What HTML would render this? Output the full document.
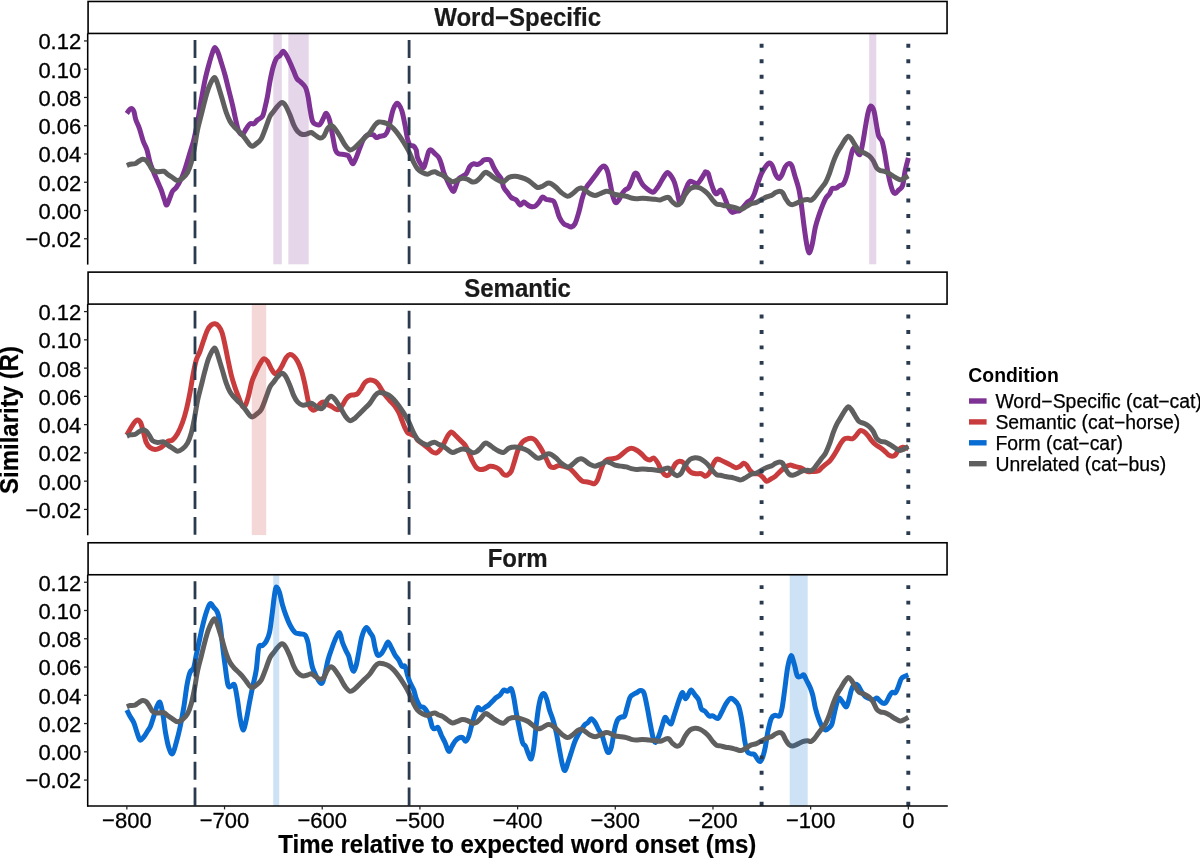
<!DOCTYPE html><html><head><meta charset="utf-8"><style>html,body{margin:0;padding:0;background:#fff;}svg{display:block;will-change:transform;}text{font-family:"Liberation Sans",sans-serif;} .t{will-change:transform;}</style></head><body>
<svg width="1200" height="858" viewBox="0 0 1200 858">
<rect width="1200" height="858" fill="#fff"/>
<clipPath id="c0"><rect x="87.70" y="33.45" width="859.30" height="231.15"/></clipPath>
<g clip-path="url(#c0)">
<path d="M126.85,113.50C127.46,112.71 129.35,109.17 130.50,108.75C131.65,108.33 132.88,109.21 133.75,111.00C134.62,112.79 134.79,116.54 135.75,119.50C136.71,122.46 138.25,125.12 139.50,128.75C140.75,132.38 142.00,137.71 143.25,141.25C144.50,144.79 145.88,146.46 147.00,150.00C148.12,153.54 148.88,158.75 150.00,162.50C151.12,166.25 152.50,169.38 153.75,172.50C155.00,175.62 156.25,178.33 157.50,181.25C158.75,184.17 160.08,186.88 161.25,190.00C162.42,193.12 163.58,197.50 164.50,200.00C165.42,202.50 165.83,205.42 166.75,205.00C167.67,204.58 169.04,199.79 170.00,197.50C170.96,195.21 171.46,192.92 172.50,191.25C173.54,189.58 174.79,189.58 176.25,187.50C177.71,185.42 179.71,182.08 181.25,178.75C182.79,175.42 184.04,171.88 185.50,167.50C186.96,163.12 188.62,157.08 190.00,152.50C191.38,147.92 192.50,145.00 193.75,140.00C195.00,135.00 196.25,129.17 197.50,122.50C198.75,115.83 200.00,107.08 201.25,100.00C202.50,92.92 203.75,85.83 205.00,80.00C206.25,74.17 207.50,69.58 208.75,65.00C210.00,60.42 211.46,55.42 212.50,52.50C213.54,49.58 214.08,47.50 215.00,47.50C215.92,47.50 216.96,50.00 218.00,52.50C219.04,55.00 220.08,58.75 221.25,62.50C222.42,66.25 223.75,70.42 225.00,75.00C226.25,79.58 227.50,85.00 228.75,90.00C230.00,95.00 231.33,100.00 232.50,105.00C233.67,110.00 234.71,115.62 235.75,120.00C236.79,124.38 237.62,128.83 238.75,131.25C239.88,133.67 241.25,134.92 242.50,134.50C243.75,134.08 245.00,130.54 246.25,128.75C247.50,126.96 248.75,124.58 250.00,123.75C251.25,122.92 252.50,124.38 253.75,123.75C255.00,123.12 256.04,121.25 257.50,120.00C258.96,118.75 261.25,118.33 262.50,116.25C263.75,114.17 264.17,110.83 265.00,107.50C265.83,104.17 266.67,100.62 267.50,96.25C268.33,91.88 269.08,86.04 270.00,81.25C270.92,76.46 271.96,71.25 273.00,67.50C274.04,63.75 275.08,60.75 276.25,58.75C277.42,56.75 278.88,56.75 280.00,55.50C281.12,54.25 281.96,51.33 283.00,51.25C284.04,51.17 285.08,53.12 286.25,55.00C287.42,56.88 288.75,59.79 290.00,62.50C291.25,65.21 292.58,68.54 293.75,71.25C294.92,73.96 295.75,76.88 297.00,78.75C298.25,80.62 299.83,81.04 301.25,82.50C302.67,83.96 304.38,85.21 305.50,87.50C306.62,89.79 307.25,92.71 308.00,96.25C308.75,99.79 309.25,104.58 310.00,108.75C310.75,112.92 311.46,118.62 312.50,121.25C313.54,123.88 315.00,123.96 316.25,124.50C317.50,125.04 318.75,125.67 320.00,124.50C321.25,123.33 322.71,119.38 323.75,117.50C324.79,115.62 325.29,112.83 326.25,113.25C327.21,113.67 328.46,116.38 329.50,120.00C330.54,123.62 331.50,130.00 332.50,135.00C333.50,140.00 334.46,146.88 335.50,150.00C336.54,153.12 337.38,153.00 338.75,153.75C340.12,154.50 342.21,154.21 343.75,154.50C345.29,154.79 346.88,154.58 348.00,155.50C349.12,156.42 349.67,158.62 350.50,160.00C351.33,161.38 352.04,164.17 353.00,163.75C353.96,163.33 355.08,160.21 356.25,157.50C357.42,154.79 358.75,150.62 360.00,147.50C361.25,144.38 362.50,140.83 363.75,138.75C365.00,136.67 366.25,135.71 367.50,135.00C368.75,134.29 370.21,134.50 371.25,134.50C372.29,134.50 372.92,134.50 373.75,135.00C374.58,135.50 375.21,137.29 376.25,137.50C377.29,137.71 378.54,136.67 380.00,136.25C381.46,135.83 383.67,136.04 385.00,135.00C386.33,133.96 387.08,132.50 388.00,130.00C388.92,127.50 389.67,123.33 390.50,120.00C391.33,116.67 392.04,112.71 393.00,110.00C393.96,107.29 395.29,104.67 396.25,103.75C397.21,102.83 397.79,103.25 398.75,104.50C399.71,105.75 400.96,107.83 402.00,111.25C403.04,114.67 404.08,120.42 405.00,125.00C405.92,129.58 406.67,135.42 407.50,138.75C408.33,142.08 408.96,143.75 410.00,145.00C411.04,146.25 412.71,145.42 413.75,146.25C414.79,147.08 415.62,148.12 416.25,150.00C416.88,151.88 416.67,155.00 417.50,157.50C418.33,160.00 420.21,163.33 421.25,165.00C422.29,166.67 422.92,168.33 423.75,167.50C424.58,166.67 425.42,162.71 426.25,160.00C427.08,157.29 427.92,152.92 428.75,151.25C429.58,149.58 430.21,149.58 431.25,150.00C432.29,150.42 433.75,152.50 435.00,153.75C436.25,155.00 437.71,155.83 438.75,157.50C439.79,159.17 440.42,161.25 441.25,163.75C442.08,166.25 442.71,169.58 443.75,172.50C444.79,175.42 446.25,178.54 447.50,181.25C448.75,183.96 450.21,187.08 451.25,188.75C452.29,190.42 452.92,191.88 453.75,191.25C454.58,190.62 455.42,187.08 456.25,185.00C457.08,182.92 457.71,180.21 458.75,178.75C459.79,177.29 461.25,177.08 462.50,176.25C463.75,175.42 465.00,175.42 466.25,173.75C467.50,172.08 468.75,167.92 470.00,166.25C471.25,164.58 472.50,164.04 473.75,163.75C475.00,163.46 476.25,164.71 477.50,164.50C478.75,164.29 480.21,163.25 481.25,162.50C482.29,161.75 482.71,160.50 483.75,160.00C484.79,159.50 486.38,159.42 487.50,159.50C488.62,159.58 489.46,159.17 490.50,160.50C491.54,161.83 492.58,165.29 493.75,167.50C494.92,169.71 496.25,171.88 497.50,173.75C498.75,175.62 500.21,176.46 501.25,178.75C502.29,181.04 502.71,185.21 503.75,187.50C504.79,189.79 506.25,190.83 507.50,192.50C508.75,194.17 509.79,196.25 511.25,197.50C512.71,198.75 514.79,198.75 516.25,200.00C517.71,201.25 518.75,204.67 520.00,205.00C521.25,205.33 522.71,202.21 523.75,202.00C524.79,201.79 525.21,203.04 526.25,203.75C527.29,204.46 528.54,205.83 530.00,206.25C531.46,206.67 533.54,206.88 535.00,206.25C536.46,205.62 537.50,204.04 538.75,202.50C540.00,200.96 541.25,197.50 542.50,197.00C543.75,196.50 545.00,199.00 546.25,199.50C547.50,200.00 548.75,199.71 550.00,200.00C551.25,200.29 552.71,200.00 553.75,201.25C554.79,202.50 555.29,204.79 556.25,207.50C557.21,210.21 558.25,214.79 559.50,217.50C560.75,220.21 562.42,222.42 563.75,223.75C565.08,225.08 566.25,224.96 567.50,225.50C568.75,226.04 570.00,227.29 571.25,227.00C572.50,226.71 573.75,226.17 575.00,223.75C576.25,221.33 577.50,216.88 578.75,212.50C580.00,208.12 581.25,201.67 582.50,197.50C583.75,193.33 585.00,190.00 586.25,187.50C587.50,185.00 588.75,184.17 590.00,182.50C591.25,180.83 592.50,179.17 593.75,177.50C595.00,175.83 596.25,174.17 597.50,172.50C598.75,170.83 600.08,168.54 601.25,167.50C602.42,166.46 603.46,165.62 604.50,166.25C605.54,166.88 606.58,168.54 607.50,171.25C608.42,173.96 609.17,178.54 610.00,182.50C610.83,186.46 611.58,191.67 612.50,195.00C613.42,198.33 614.46,201.67 615.50,202.50C616.54,203.33 617.67,201.46 618.75,200.00C619.83,198.54 620.96,195.42 622.00,193.75C623.04,192.08 623.88,191.04 625.00,190.00C626.12,188.96 627.58,189.17 628.75,187.50C629.92,185.83 631.04,182.29 632.00,180.00C632.96,177.71 633.67,174.79 634.50,173.75C635.33,172.71 636.08,172.71 637.00,173.75C637.92,174.79 639.00,178.12 640.00,180.00C641.00,181.88 641.83,183.54 643.00,185.00C644.17,186.46 645.75,187.71 647.00,188.75C648.25,189.79 649.38,190.71 650.50,191.25C651.62,191.79 652.58,192.62 653.75,192.00C654.92,191.38 656.25,189.29 657.50,187.50C658.75,185.71 660.00,183.33 661.25,181.25C662.50,179.17 663.96,176.46 665.00,175.00C666.04,173.54 666.46,172.29 667.50,172.50C668.54,172.71 670.08,174.58 671.25,176.25C672.42,177.92 673.46,179.58 674.50,182.50C675.54,185.42 676.67,190.42 677.50,193.75C678.33,197.08 678.88,201.25 679.50,202.50C680.12,203.75 680.42,202.92 681.25,201.25C682.08,199.58 683.46,195.21 684.50,192.50C685.54,189.79 686.58,186.88 687.50,185.00C688.42,183.12 688.96,181.67 690.00,181.25C691.04,180.83 692.50,182.08 693.75,182.50C695.00,182.92 696.25,184.38 697.50,183.75C698.75,183.12 700.00,180.62 701.25,178.75C702.50,176.88 704.27,173.62 705.00,172.50C705.73,171.38 705.11,171.91 705.64,172.05C706.18,172.19 707.35,171.62 708.21,173.33C709.06,175.04 709.79,179.32 710.77,182.31C711.75,185.30 713.12,189.36 714.10,191.28C715.09,193.21 715.60,194.06 716.67,193.85C717.74,193.63 719.44,190.00 720.51,190.00C721.58,190.00 722.22,192.14 723.08,193.85C723.93,195.56 724.70,197.91 725.64,200.26C726.58,202.61 727.65,205.94 728.72,207.95C729.79,209.96 730.85,211.75 732.05,212.31C733.25,212.86 734.62,211.58 735.90,211.28C737.18,210.98 738.46,211.28 739.74,210.51C741.03,209.74 742.31,208.08 743.59,206.67C744.87,205.26 746.15,203.25 747.44,202.05C748.72,200.85 750.13,200.85 751.28,199.49C752.44,198.12 753.29,196.50 754.36,193.85C755.43,191.20 756.50,187.01 757.69,183.59C758.89,180.17 760.26,176.11 761.54,173.33C762.82,170.56 764.10,168.63 765.38,166.92C766.67,165.21 768.08,163.29 769.23,163.08C770.38,162.86 771.24,163.72 772.31,165.64C773.38,167.56 774.53,172.48 775.64,174.62C776.75,176.75 777.91,178.46 778.97,178.46C780.04,178.46 781.03,176.54 782.05,174.62C783.08,172.69 784.06,168.76 785.13,166.92C786.20,165.09 787.35,163.80 788.46,163.59C789.57,163.38 790.73,163.59 791.79,165.64C792.86,167.69 793.72,172.05 794.87,175.90C796.03,179.74 797.65,184.02 798.72,188.72C799.79,193.42 800.43,198.12 801.28,204.10C802.14,210.09 802.99,218.21 803.85,224.62C804.70,231.03 805.56,237.86 806.41,242.56C807.26,247.26 808.03,252.39 808.97,252.82C809.91,253.25 810.98,249.40 812.05,245.13C813.12,240.85 814.19,232.31 815.38,227.18C816.58,222.05 817.95,218.21 819.23,214.36C820.51,210.51 821.92,206.88 823.08,204.10C824.23,201.32 825.09,199.40 826.15,197.69C827.22,195.98 828.50,195.34 829.49,193.85C830.47,192.35 830.98,189.66 832.05,188.72C833.12,187.78 834.62,188.72 835.90,188.21C837.18,187.69 838.46,186.41 839.74,185.64C841.03,184.87 842.31,185.64 843.59,183.59C844.87,181.54 846.37,177.18 847.44,173.33C848.50,169.49 849.15,164.36 850.00,160.51C850.85,156.67 851.71,152.39 852.56,150.26C853.42,148.12 854.27,147.26 855.13,147.69C855.98,148.12 856.84,151.75 857.69,152.82C858.55,153.89 859.40,155.81 860.26,154.10C861.11,152.39 861.97,147.05 862.82,142.56C863.68,138.08 864.53,132.09 865.38,127.18C866.24,122.26 867.09,116.58 867.95,113.08C868.80,109.57 869.53,106.58 870.51,106.15C871.50,105.73 872.86,107.44 873.85,110.51C874.83,113.59 875.60,120.34 876.41,124.62C877.22,128.89 877.78,133.38 878.72,136.15C879.66,138.93 881.07,138.50 882.05,141.28C883.03,144.06 883.76,148.33 884.62,152.82C885.47,157.31 886.32,163.50 887.18,168.21C888.03,172.91 888.80,177.18 889.74,181.03C890.68,184.87 891.88,189.23 892.82,191.28C893.76,193.33 894.40,193.55 895.38,193.33C896.37,193.12 897.52,191.28 898.72,190.00C899.91,188.72 901.50,188.85 902.56,185.64C903.63,182.44 904.17,175.38 905.13,170.77C906.09,166.15 907.81,160.09 908.34,157.95" fill="none" stroke="#7e3294" stroke-width="5.00" stroke-linejoin="round"/>
<path d="M126.85,165.50C127.38,165.29 128.64,164.54 130.00,164.25C131.36,163.96 133.54,164.25 135.00,163.75C136.46,163.25 137.50,162.00 138.75,161.25C140.00,160.50 141.25,159.38 142.50,159.25C143.75,159.12 145.08,159.54 146.25,160.50C147.42,161.46 148.46,163.42 149.50,165.00C150.54,166.58 151.17,168.88 152.50,170.00C153.83,171.12 155.62,171.54 157.50,171.75C159.38,171.96 162.08,170.83 163.75,171.25C165.42,171.67 166.04,173.21 167.50,174.25C168.96,175.29 170.83,176.46 172.50,177.50C174.17,178.54 175.83,180.38 177.50,180.50C179.17,180.62 180.83,179.58 182.50,178.25C184.17,176.92 186.04,175.12 187.50,172.50C188.96,169.88 190.08,166.67 191.25,162.50C192.42,158.33 193.46,152.92 194.50,147.50C195.54,142.08 196.38,135.42 197.50,130.00C198.62,124.58 200.00,120.00 201.25,115.00C202.50,110.00 203.75,104.58 205.00,100.00C206.25,95.42 207.29,91.17 208.75,87.50C210.21,83.83 212.50,79.25 213.75,78.00C215.00,76.75 215.29,78.00 216.25,80.00C217.21,82.00 218.46,86.67 219.50,90.00C220.54,93.33 221.38,96.25 222.50,100.00C223.62,103.75 225.00,108.96 226.25,112.50C227.50,116.04 228.75,118.96 230.00,121.25C231.25,123.54 232.29,124.58 233.75,126.25C235.21,127.92 237.29,129.79 238.75,131.25C240.21,132.71 241.25,133.54 242.50,135.00C243.75,136.46 245.00,138.33 246.25,140.00C247.50,141.67 248.96,143.96 250.00,145.00C251.04,146.04 251.46,146.46 252.50,146.25C253.54,146.04 254.79,145.00 256.25,143.75C257.71,142.50 259.58,141.67 261.25,138.75C262.92,135.83 264.79,130.00 266.25,126.25C267.71,122.50 268.75,118.75 270.00,116.25C271.25,113.75 272.50,112.92 273.75,111.25C275.00,109.58 276.12,107.71 277.50,106.25C278.88,104.79 280.67,102.62 282.00,102.50C283.33,102.38 284.17,103.42 285.50,105.50C286.83,107.58 288.62,111.75 290.00,115.00C291.38,118.25 292.50,122.29 293.75,125.00C295.00,127.71 296.04,129.67 297.50,131.25C298.96,132.83 300.83,134.08 302.50,134.50C304.17,134.92 306.04,134.08 307.50,133.75C308.96,133.42 310.00,132.29 311.25,132.50C312.50,132.71 313.54,134.08 315.00,135.00C316.46,135.92 318.54,137.79 320.00,138.00C321.46,138.21 322.50,137.79 323.75,136.25C325.00,134.71 326.25,130.54 327.50,128.75C328.75,126.96 330.00,125.50 331.25,125.50C332.50,125.50 333.54,126.96 335.00,128.75C336.46,130.54 338.33,133.54 340.00,136.25C341.67,138.96 343.33,142.71 345.00,145.00C346.67,147.29 348.33,149.58 350.00,150.00C351.67,150.42 353.33,148.75 355.00,147.50C356.67,146.25 358.33,144.17 360.00,142.50C361.67,140.83 363.33,139.17 365.00,137.50C366.67,135.83 368.33,134.58 370.00,132.50C371.67,130.42 373.54,126.75 375.00,125.00C376.46,123.25 377.29,122.42 378.75,122.00C380.21,121.58 382.08,122.08 383.75,122.50C385.42,122.92 387.08,123.46 388.75,124.50C390.42,125.54 392.08,127.00 393.75,128.75C395.42,130.50 397.08,132.71 398.75,135.00C400.42,137.29 402.08,139.79 403.75,142.50C405.42,145.21 407.08,147.92 408.75,151.25C410.42,154.58 412.29,159.58 413.75,162.50C415.21,165.42 416.04,167.08 417.50,168.75C418.96,170.42 420.83,171.58 422.50,172.50C424.17,173.42 426.04,174.25 427.50,174.25C428.96,174.25 430.00,172.92 431.25,172.50C432.50,172.08 433.75,171.54 435.00,171.75C436.25,171.96 437.50,173.21 438.75,173.75C440.00,174.29 441.04,174.17 442.50,175.00C443.96,175.83 445.83,177.62 447.50,178.75C449.17,179.88 450.83,181.54 452.50,181.75C454.17,181.96 455.83,180.58 457.50,180.00C459.17,179.42 460.83,178.38 462.50,178.25C464.17,178.12 465.83,178.62 467.50,179.25C469.17,179.88 471.04,181.67 472.50,182.00C473.96,182.33 475.00,181.92 476.25,181.25C477.50,180.58 478.54,179.46 480.00,178.00C481.46,176.54 483.54,173.21 485.00,172.50C486.46,171.79 487.29,172.92 488.75,173.75C490.21,174.58 492.08,176.38 493.75,177.50C495.42,178.62 497.08,179.79 498.75,180.50C500.42,181.21 502.08,182.25 503.75,181.75C505.42,181.25 506.88,178.42 508.75,177.50C510.62,176.58 512.92,176.25 515.00,176.25C517.08,176.25 519.17,176.88 521.25,177.50C523.33,178.12 525.62,178.96 527.50,180.00C529.38,181.04 530.83,182.50 532.50,183.75C534.17,185.00 535.83,187.08 537.50,187.50C539.17,187.92 540.83,186.96 542.50,186.25C544.17,185.54 546.04,183.67 547.50,183.25C548.96,182.83 549.79,183.04 551.25,183.75C552.71,184.46 554.58,186.04 556.25,187.50C557.92,188.96 559.38,191.04 561.25,192.50C563.12,193.96 565.62,196.04 567.50,196.25C569.38,196.46 570.83,194.92 572.50,193.75C574.17,192.58 576.04,190.21 577.50,189.25C578.96,188.29 580.00,187.88 581.25,188.00C582.50,188.12 583.54,189.04 585.00,190.00C586.46,190.96 588.33,192.83 590.00,193.75C591.67,194.67 593.33,195.50 595.00,195.50C596.67,195.50 598.12,194.46 600.00,193.75C601.88,193.04 604.58,191.54 606.25,191.25C607.92,190.96 608.54,191.46 610.00,192.00C611.46,192.54 613.12,193.92 615.00,194.50C616.88,195.08 619.38,195.21 621.25,195.50C623.12,195.79 624.58,195.83 626.25,196.25C627.92,196.67 629.58,197.58 631.25,198.00C632.92,198.42 634.38,198.71 636.25,198.75C638.12,198.79 640.42,198.25 642.50,198.25C644.58,198.25 646.67,198.58 648.75,198.75C650.83,198.92 653.12,199.04 655.00,199.25C656.88,199.46 658.33,200.21 660.00,200.00C661.67,199.79 663.54,198.42 665.00,198.00C666.46,197.58 667.50,196.83 668.75,197.50C670.00,198.17 671.12,200.75 672.50,202.00C673.88,203.25 675.54,204.92 677.00,205.00C678.46,205.08 679.92,204.17 681.25,202.50C682.58,200.83 683.54,197.29 685.00,195.00C686.46,192.71 688.33,190.08 690.00,188.75C691.67,187.42 693.33,187.12 695.00,187.00C696.67,186.88 698.33,187.29 700.00,188.00C701.67,188.71 703.50,190.06 705.00,191.25C706.50,192.44 707.67,193.63 708.97,195.13C710.28,196.63 711.54,198.76 712.82,200.26C714.10,201.75 715.38,203.38 716.67,204.10C717.95,204.83 719.02,204.32 720.51,204.62C722.01,204.91 723.93,205.56 725.64,205.90C727.35,206.24 729.06,206.32 730.77,206.67C732.48,207.01 734.19,207.52 735.90,207.95C737.61,208.38 739.32,209.44 741.03,209.23C742.74,209.02 744.44,207.61 746.15,206.67C747.86,205.73 749.57,204.32 751.28,203.59C752.99,202.86 754.70,202.99 756.41,202.31C758.12,201.62 759.83,200.38 761.54,199.49C763.25,198.59 764.96,197.65 766.67,196.92C768.38,196.20 770.30,195.85 771.79,195.13C773.29,194.40 774.36,193.21 775.64,192.56C776.92,191.92 778.33,191.28 779.49,191.28C780.64,191.28 781.50,191.28 782.56,192.56C783.63,193.85 784.79,197.14 785.90,198.97C787.01,200.81 788.08,202.65 789.23,203.59C790.38,204.53 791.45,204.74 792.82,204.62C794.19,204.49 795.81,203.55 797.44,202.82C799.06,202.09 800.85,200.81 802.56,200.26C804.27,199.70 806.32,199.49 807.69,199.49C809.06,199.49 809.70,200.56 810.77,200.26C811.84,199.96 812.91,198.97 814.10,197.69C815.30,196.41 816.67,194.27 817.95,192.56C819.23,190.85 820.51,189.15 821.79,187.44C823.08,185.73 824.36,184.66 825.64,182.31C826.92,179.96 828.21,176.75 829.49,173.33C830.77,169.91 832.05,165.21 833.33,161.79C834.62,158.38 835.90,155.38 837.18,152.82C838.46,150.26 839.74,148.55 841.03,146.41C842.31,144.27 843.68,141.71 844.87,140.00C846.07,138.29 847.14,136.37 848.21,136.15C849.27,135.94 850.13,137.22 851.28,138.72C852.44,140.21 853.85,143.12 855.13,145.13C856.41,147.14 857.48,149.49 858.97,150.77C860.47,152.05 862.39,151.97 864.10,152.82C865.81,153.68 867.74,154.62 869.23,155.90C870.73,157.18 871.79,158.46 873.08,160.51C874.36,162.56 875.64,166.50 876.92,168.21C878.21,169.91 879.49,170.26 880.77,170.77C882.05,171.28 883.12,170.77 884.62,171.28C886.11,171.79 888.03,172.86 889.74,173.85C891.45,174.83 893.16,176.20 894.87,177.18C896.58,178.16 898.50,179.53 900.00,179.74C901.50,179.96 902.46,179.10 903.85,178.46C905.24,177.82 907.59,176.32 908.34,175.90" fill="none" stroke="#5f5f5f" stroke-width="5.00" stroke-linejoin="round"/>
<line x1="195.00" y1="40.00" x2="195.00" y2="266.60" stroke="#2a3b4f" stroke-width="2.8" stroke-dasharray="17.9 7.88"/>
<line x1="409.10" y1="40.00" x2="409.10" y2="266.60" stroke="#2a3b4f" stroke-width="2.8" stroke-dasharray="17.9 7.88"/>
<line x1="761.60" y1="43.85" x2="761.60" y2="266.60" stroke="#2a3b4f" stroke-width="3.9" stroke-dasharray="3.9 11.575"/>
<line x1="908.30" y1="43.85" x2="908.30" y2="266.60" stroke="#2a3b4f" stroke-width="3.9" stroke-dasharray="3.9 11.575"/>
<rect x="273.30" y="33.45" width="8.50" height="231.15" fill="#7e3294" fill-opacity="0.2"/>
<rect x="288.30" y="33.45" width="20.40" height="231.15" fill="#7e3294" fill-opacity="0.2"/>
<rect x="869.20" y="33.45" width="7.10" height="231.15" fill="#7e3294" fill-opacity="0.2"/>
</g>
<rect x="88.08" y="1.47" width="858.97" height="31.98" fill="#fff" stroke="#000" stroke-width="1.6"/>
<text transform="translate(517.6,26.10) scale(1,1.04)" font-size="24" font-weight="bold" fill="#1a1a1a" stroke="#1a1a1a" stroke-width="0.2" text-anchor="middle">Word−Specific</text>
<line x1="87.70" y1="33.45" x2="87.70" y2="264.60" stroke="#000" stroke-width="1.55"/>
<line x1="84.0" y1="40.93" x2="87.70" y2="40.93" stroke="#222" stroke-width="1.25"/>
<text transform="translate(81.2,49.33) scale(1,1.04)" font-size="22" fill="#000" stroke="#000" stroke-width="0.3" text-anchor="end">0.12</text>
<line x1="84.0" y1="69.19" x2="87.70" y2="69.19" stroke="#222" stroke-width="1.25"/>
<text transform="translate(81.2,77.59) scale(1,1.04)" font-size="22" fill="#000" stroke="#000" stroke-width="0.3" text-anchor="end">0.10</text>
<line x1="84.0" y1="97.46" x2="87.70" y2="97.46" stroke="#222" stroke-width="1.25"/>
<text transform="translate(81.2,105.86) scale(1,1.04)" font-size="22" fill="#000" stroke="#000" stroke-width="0.3" text-anchor="end">0.08</text>
<line x1="84.0" y1="125.72" x2="87.70" y2="125.72" stroke="#222" stroke-width="1.25"/>
<text transform="translate(81.2,134.12) scale(1,1.04)" font-size="22" fill="#000" stroke="#000" stroke-width="0.3" text-anchor="end">0.06</text>
<line x1="84.0" y1="153.98" x2="87.70" y2="153.98" stroke="#222" stroke-width="1.25"/>
<text transform="translate(81.2,162.38) scale(1,1.04)" font-size="22" fill="#000" stroke="#000" stroke-width="0.3" text-anchor="end">0.04</text>
<line x1="84.0" y1="182.25" x2="87.70" y2="182.25" stroke="#222" stroke-width="1.25"/>
<text transform="translate(81.2,190.65) scale(1,1.04)" font-size="22" fill="#000" stroke="#000" stroke-width="0.3" text-anchor="end">0.02</text>
<line x1="84.0" y1="210.51" x2="87.70" y2="210.51" stroke="#222" stroke-width="1.25"/>
<text transform="translate(81.2,218.91) scale(1,1.04)" font-size="22" fill="#000" stroke="#000" stroke-width="0.3" text-anchor="end">0.00</text>
<line x1="84.0" y1="238.77" x2="87.70" y2="238.77" stroke="#222" stroke-width="1.25"/>
<text transform="translate(81.2,247.17) scale(1,1.04)" font-size="22" fill="#000" stroke="#000" stroke-width="0.3" text-anchor="end">−0.02</text>
<clipPath id="c1"><rect x="87.70" y="304.10" width="859.30" height="231.15"/></clipPath>
<g clip-path="url(#c1)">
<path d="M126.85,435.00C127.38,434.08 128.81,431.50 130.00,429.50C131.19,427.50 132.75,424.58 134.00,423.00C135.25,421.42 136.42,420.08 137.50,420.00C138.58,419.92 139.54,420.62 140.50,422.50C141.46,424.38 142.29,427.92 143.25,431.25C144.21,434.58 145.12,439.79 146.25,442.50C147.38,445.21 148.54,446.33 150.00,447.50C151.46,448.67 153.33,449.42 155.00,449.50C156.67,449.58 158.42,448.83 160.00,448.00C161.58,447.17 163.17,445.62 164.50,444.50C165.83,443.38 166.67,442.00 168.00,441.25C169.33,440.50 170.92,441.25 172.50,440.00C174.08,438.75 175.83,436.67 177.50,433.75C179.17,430.83 181.04,426.46 182.50,422.50C183.96,418.54 185.00,415.00 186.25,410.00C187.50,405.00 188.88,398.33 190.00,392.50C191.12,386.67 191.96,380.42 193.00,375.00C194.04,369.58 195.08,363.96 196.25,360.00C197.42,356.04 198.75,354.58 200.00,351.25C201.25,347.92 202.50,343.54 203.75,340.00C205.00,336.46 206.25,332.50 207.50,330.00C208.75,327.50 210.00,326.04 211.25,325.00C212.50,323.96 213.75,323.54 215.00,323.75C216.25,323.96 217.58,324.79 218.75,326.25C219.92,327.71 220.96,329.38 222.00,332.50C223.04,335.62 224.00,340.42 225.00,345.00C226.00,349.58 226.96,355.00 228.00,360.00C229.04,365.00 230.08,370.42 231.25,375.00C232.42,379.58 233.75,383.75 235.00,387.50C236.25,391.25 237.50,394.38 238.75,397.50C240.00,400.62 241.38,405.00 242.50,406.25C243.62,407.50 244.46,406.88 245.50,405.00C246.54,403.12 247.67,398.96 248.75,395.00C249.83,391.04 250.75,385.21 252.00,381.25C253.25,377.29 254.92,374.17 256.25,371.25C257.58,368.33 258.75,365.83 260.00,363.75C261.25,361.67 262.50,359.17 263.75,358.75C265.00,358.33 266.25,359.58 267.50,361.25C268.75,362.92 270.00,366.67 271.25,368.75C272.50,370.83 273.75,373.33 275.00,373.75C276.25,374.17 277.50,372.71 278.75,371.25C280.00,369.79 281.25,367.29 282.50,365.00C283.75,362.71 285.00,359.25 286.25,357.50C287.50,355.75 288.75,354.71 290.00,354.50C291.25,354.29 292.50,355.12 293.75,356.25C295.00,357.38 296.25,358.96 297.50,361.25C298.75,363.54 300.08,366.46 301.25,370.00C302.42,373.54 303.54,378.33 304.50,382.50C305.46,386.67 306.17,391.04 307.00,395.00C307.83,398.96 308.58,403.75 309.50,406.25C310.42,408.75 311.38,409.58 312.50,410.00C313.62,410.42 315.00,409.79 316.25,408.75C317.50,407.71 318.75,404.88 320.00,403.75C321.25,402.62 322.50,401.88 323.75,402.00C325.00,402.12 326.25,403.79 327.50,404.50C328.75,405.21 330.00,405.54 331.25,406.25C332.50,406.96 333.75,408.21 335.00,408.75C336.25,409.29 337.50,410.12 338.75,409.50C340.00,408.88 341.25,406.79 342.50,405.00C343.75,403.21 345.00,400.33 346.25,398.75C347.50,397.17 348.75,396.12 350.00,395.50C351.25,394.88 352.50,395.29 353.75,395.00C355.00,394.71 356.25,394.79 357.50,393.75C358.75,392.71 360.00,390.62 361.25,388.75C362.50,386.88 363.54,383.96 365.00,382.50C366.46,381.04 368.33,380.21 370.00,380.00C371.67,379.79 373.54,380.42 375.00,381.25C376.46,382.08 377.50,383.33 378.75,385.00C380.00,386.67 381.12,389.17 382.50,391.25C383.88,393.33 385.54,395.71 387.00,397.50C388.46,399.29 389.92,400.54 391.25,402.00C392.58,403.46 393.75,404.50 395.00,406.25C396.25,408.00 397.71,410.42 398.75,412.50C399.79,414.58 400.29,416.33 401.25,418.75C402.21,421.17 403.46,424.71 404.50,427.00C405.54,429.29 406.38,431.25 407.50,432.50C408.62,433.75 410.00,433.88 411.25,434.50C412.50,435.12 413.96,435.33 415.00,436.25C416.04,437.17 416.25,438.75 417.50,440.00C418.75,441.25 420.83,442.50 422.50,443.75C424.17,445.00 425.83,446.12 427.50,447.50C429.17,448.88 431.04,451.08 432.50,452.00C433.96,452.92 435.00,453.33 436.25,453.00C437.50,452.67 438.75,451.54 440.00,450.00C441.25,448.46 442.50,446.04 443.75,443.75C445.00,441.46 446.25,438.21 447.50,436.25C448.75,434.29 450.00,432.21 451.25,432.00C452.50,431.79 453.54,433.67 455.00,435.00C456.46,436.33 458.33,438.33 460.00,440.00C461.67,441.67 463.54,442.92 465.00,445.00C466.46,447.08 467.50,449.79 468.75,452.50C470.00,455.21 471.25,458.75 472.50,461.25C473.75,463.75 475.00,466.12 476.25,467.50C477.50,468.88 478.54,469.29 480.00,469.50C481.46,469.71 483.33,469.29 485.00,468.75C486.67,468.21 488.12,466.46 490.00,466.25C491.88,466.04 494.58,466.88 496.25,467.50C497.92,468.12 498.75,468.83 500.00,470.00C501.25,471.17 502.50,473.67 503.75,474.50C505.00,475.33 506.25,475.54 507.50,475.00C508.75,474.46 510.08,473.54 511.25,471.25C512.42,468.96 513.38,464.79 514.50,461.25C515.62,457.71 516.75,453.12 518.00,450.00C519.25,446.88 520.62,444.25 522.00,442.50C523.38,440.75 524.71,440.21 526.25,439.50C527.79,438.79 529.79,438.17 531.25,438.25C532.71,438.33 533.75,438.88 535.00,440.00C536.25,441.12 537.50,443.12 538.75,445.00C540.00,446.88 541.25,448.96 542.50,451.25C543.75,453.54 545.00,456.25 546.25,458.75C547.50,461.25 548.75,464.79 550.00,466.25C551.25,467.71 552.29,467.62 553.75,467.50C555.21,467.38 557.08,465.71 558.75,465.50C560.42,465.29 561.88,465.71 563.75,466.25C565.62,466.79 568.12,467.50 570.00,468.75C571.88,470.00 573.54,472.21 575.00,473.75C576.46,475.29 577.50,476.75 578.75,478.00C580.00,479.25 581.04,480.58 582.50,481.25C583.96,481.92 586.04,481.71 587.50,482.00C588.96,482.29 590.08,482.71 591.25,483.00C592.42,483.29 593.46,484.25 594.50,483.75C595.54,483.25 596.50,482.08 597.50,480.00C598.50,477.92 599.46,474.08 600.50,471.25C601.54,468.42 602.58,464.96 603.75,463.00C604.92,461.04 606.04,460.21 607.50,459.50C608.96,458.79 610.83,459.08 612.50,458.75C614.17,458.42 615.83,458.33 617.50,457.50C619.17,456.67 620.92,455.00 622.50,453.75C624.08,452.50 625.54,450.92 627.00,450.00C628.46,449.08 629.71,448.25 631.25,448.25C632.79,448.25 634.58,449.08 636.25,450.00C637.92,450.92 639.58,452.29 641.25,453.75C642.92,455.21 644.79,457.71 646.25,458.75C647.71,459.79 648.75,460.12 650.00,460.00C651.25,459.88 652.50,457.58 653.75,458.00C655.00,458.42 656.25,460.50 657.50,462.50C658.75,464.50 660.00,467.92 661.25,470.00C662.50,472.08 663.75,474.17 665.00,475.00C666.25,475.83 667.58,475.83 668.75,475.00C669.92,474.17 670.88,471.88 672.00,470.00C673.12,468.12 674.25,465.21 675.50,463.75C676.75,462.29 678.12,461.38 679.50,461.25C680.88,461.12 682.42,461.75 683.75,463.00C685.08,464.25 686.25,467.17 687.50,468.75C688.75,470.33 689.79,471.67 691.25,472.50C692.71,473.33 694.58,473.54 696.25,473.75C697.92,473.96 699.79,473.33 701.25,473.75C702.71,474.17 704.01,475.98 705.00,476.25C705.99,476.52 706.30,476.17 707.18,475.38C708.06,474.60 709.23,473.46 710.26,471.54C711.28,469.62 712.26,465.90 713.33,463.85C714.40,461.79 715.47,459.87 716.67,459.23C717.86,458.59 719.02,459.44 720.51,460.00C722.01,460.56 723.93,461.71 725.64,462.56C727.35,463.42 729.06,464.27 730.77,465.13C732.48,465.98 734.40,467.48 735.90,467.69C737.39,467.91 738.46,467.14 739.74,466.41C741.03,465.68 742.44,463.55 743.59,463.33C744.74,463.12 745.60,463.97 746.67,465.13C747.74,466.28 748.80,468.85 750.00,470.26C751.20,471.67 752.35,472.95 753.85,473.59C755.34,474.23 757.48,473.50 758.97,474.10C760.47,474.70 761.54,475.98 762.82,477.18C764.10,478.38 765.38,480.94 766.67,481.28C767.95,481.62 769.15,480.00 770.51,479.23C771.88,478.46 773.38,477.86 774.87,476.67C776.37,475.47 777.86,473.55 779.49,472.05C781.11,470.56 782.91,468.85 784.62,467.69C786.32,466.54 788.03,465.34 789.74,465.13C791.45,464.91 793.16,465.98 794.87,466.41C796.58,466.84 798.50,467.18 800.00,467.69C801.50,468.21 802.56,468.85 803.85,469.49C805.13,470.13 806.20,471.20 807.69,471.54C809.19,471.88 811.11,471.62 812.82,471.54C814.53,471.45 816.45,471.67 817.95,471.03C819.44,470.38 820.51,468.80 821.79,467.69C823.08,466.58 824.36,465.43 825.64,464.36C826.92,463.29 828.21,462.65 829.49,461.28C830.77,459.91 832.05,458.08 833.33,456.15C834.62,454.23 835.90,451.97 837.18,449.74C838.46,447.52 839.74,444.66 841.03,442.82C842.31,440.98 843.59,439.49 844.87,438.72C846.15,437.95 847.44,438.21 848.72,438.21C850.00,438.21 851.28,439.23 852.56,438.72C853.85,438.21 855.13,436.50 856.41,435.13C857.69,433.76 858.97,431.07 860.26,430.51C861.54,429.96 862.82,430.94 864.10,431.79C865.38,432.65 866.67,434.15 867.95,435.64C869.23,437.14 870.51,439.27 871.79,440.77C873.08,442.26 874.15,443.42 875.64,444.62C877.14,445.81 879.27,446.88 880.77,447.95C882.26,449.02 883.33,449.87 884.62,451.03C885.90,452.18 887.18,454.02 888.46,454.87C889.74,455.73 891.15,456.15 892.31,456.15C893.46,456.15 894.32,455.94 895.38,454.87C896.45,453.80 897.52,451.03 898.72,449.74C899.91,448.46 900.96,447.39 902.56,447.18C904.17,446.97 907.38,448.25 908.34,448.46" fill="none" stroke="#c93c3d" stroke-width="5.00" stroke-linejoin="round"/>
<path d="M126.85,436.15C127.38,435.94 128.64,435.19 130.00,434.90C131.36,434.61 133.54,434.90 135.00,434.40C136.46,433.90 137.50,432.65 138.75,431.90C140.00,431.15 141.25,430.02 142.50,429.90C143.75,429.77 145.08,430.19 146.25,431.15C147.42,432.11 148.46,434.07 149.50,435.65C150.54,437.23 151.17,439.52 152.50,440.65C153.83,441.77 155.62,442.19 157.50,442.40C159.38,442.61 162.08,441.48 163.75,441.90C165.42,442.32 166.04,443.86 167.50,444.90C168.96,445.94 170.83,447.11 172.50,448.15C174.17,449.19 175.83,451.02 177.50,451.15C179.17,451.27 180.83,450.23 182.50,448.90C184.17,447.57 186.04,445.77 187.50,443.15C188.96,440.52 190.08,437.32 191.25,433.15C192.42,428.98 193.46,423.57 194.50,418.15C195.54,412.73 196.38,406.07 197.50,400.65C198.62,395.23 200.00,390.65 201.25,385.65C202.50,380.65 203.75,375.23 205.00,370.65C206.25,366.07 207.29,361.82 208.75,358.15C210.21,354.48 212.50,349.90 213.75,348.65C215.00,347.40 215.29,348.65 216.25,350.65C217.21,352.65 218.46,357.32 219.50,360.65C220.54,363.98 221.38,366.90 222.50,370.65C223.62,374.40 225.00,379.61 226.25,383.15C227.50,386.69 228.75,389.61 230.00,391.90C231.25,394.19 232.29,395.23 233.75,396.90C235.21,398.57 237.29,400.44 238.75,401.90C240.21,403.36 241.25,404.19 242.50,405.65C243.75,407.11 245.00,408.98 246.25,410.65C247.50,412.32 248.96,414.61 250.00,415.65C251.04,416.69 251.46,417.11 252.50,416.90C253.54,416.69 254.79,415.65 256.25,414.40C257.71,413.15 259.58,412.32 261.25,409.40C262.92,406.48 264.79,400.65 266.25,396.90C267.71,393.15 268.75,389.40 270.00,386.90C271.25,384.40 272.50,383.57 273.75,381.90C275.00,380.23 276.12,378.36 277.50,376.90C278.88,375.44 280.67,373.27 282.00,373.15C283.33,373.02 284.17,374.07 285.50,376.15C286.83,378.23 288.62,382.40 290.00,385.65C291.38,388.90 292.50,392.94 293.75,395.65C295.00,398.36 296.04,400.32 297.50,401.90C298.96,403.48 300.83,404.73 302.50,405.15C304.17,405.57 306.04,404.73 307.50,404.40C308.96,404.07 310.00,402.94 311.25,403.15C312.50,403.36 313.54,404.73 315.00,405.65C316.46,406.57 318.54,408.44 320.00,408.65C321.46,408.86 322.50,408.44 323.75,406.90C325.00,405.36 326.25,401.19 327.50,399.40C328.75,397.61 330.00,396.15 331.25,396.15C332.50,396.15 333.54,397.61 335.00,399.40C336.46,401.19 338.33,404.19 340.00,406.90C341.67,409.61 343.33,413.36 345.00,415.65C346.67,417.94 348.33,420.23 350.00,420.65C351.67,421.07 353.33,419.40 355.00,418.15C356.67,416.90 358.33,414.82 360.00,413.15C361.67,411.48 363.33,409.82 365.00,408.15C366.67,406.48 368.33,405.23 370.00,403.15C371.67,401.07 373.54,397.40 375.00,395.65C376.46,393.90 377.29,393.07 378.75,392.65C380.21,392.23 382.08,392.73 383.75,393.15C385.42,393.57 387.08,394.11 388.75,395.15C390.42,396.19 392.08,397.65 393.75,399.40C395.42,401.15 397.08,403.36 398.75,405.65C400.42,407.94 402.08,410.44 403.75,413.15C405.42,415.86 407.08,418.57 408.75,421.90C410.42,425.23 412.29,430.23 413.75,433.15C415.21,436.07 416.04,437.73 417.50,439.40C418.96,441.07 420.83,442.23 422.50,443.15C424.17,444.07 426.04,444.90 427.50,444.90C428.96,444.90 430.00,443.57 431.25,443.15C432.50,442.73 433.75,442.19 435.00,442.40C436.25,442.61 437.50,443.86 438.75,444.40C440.00,444.94 441.04,444.82 442.50,445.65C443.96,446.48 445.83,448.27 447.50,449.40C449.17,450.52 450.83,452.19 452.50,452.40C454.17,452.61 455.83,451.23 457.50,450.65C459.17,450.07 460.83,449.02 462.50,448.90C464.17,448.77 465.83,449.27 467.50,449.90C469.17,450.52 471.04,452.32 472.50,452.65C473.96,452.98 475.00,452.57 476.25,451.90C477.50,451.23 478.54,450.11 480.00,448.65C481.46,447.19 483.54,443.86 485.00,443.15C486.46,442.44 487.29,443.57 488.75,444.40C490.21,445.23 492.08,447.02 493.75,448.15C495.42,449.27 497.08,450.44 498.75,451.15C500.42,451.86 502.08,452.90 503.75,452.40C505.42,451.90 506.88,449.07 508.75,448.15C510.62,447.23 512.92,446.90 515.00,446.90C517.08,446.90 519.17,447.52 521.25,448.15C523.33,448.77 525.62,449.61 527.50,450.65C529.38,451.69 530.83,453.15 532.50,454.40C534.17,455.65 535.83,457.73 537.50,458.15C539.17,458.57 540.83,457.61 542.50,456.90C544.17,456.19 546.04,454.32 547.50,453.90C548.96,453.48 549.79,453.69 551.25,454.40C552.71,455.11 554.58,456.69 556.25,458.15C557.92,459.61 559.38,461.69 561.25,463.15C563.12,464.61 565.62,466.69 567.50,466.90C569.38,467.11 570.83,465.57 572.50,464.40C574.17,463.23 576.04,460.86 577.50,459.90C578.96,458.94 580.00,458.52 581.25,458.65C582.50,458.77 583.54,459.69 585.00,460.65C586.46,461.61 588.33,463.48 590.00,464.40C591.67,465.32 593.33,466.15 595.00,466.15C596.67,466.15 598.12,465.11 600.00,464.40C601.88,463.69 604.58,462.19 606.25,461.90C607.92,461.61 608.54,462.11 610.00,462.65C611.46,463.19 613.12,464.57 615.00,465.15C616.88,465.73 619.38,465.86 621.25,466.15C623.12,466.44 624.58,466.48 626.25,466.90C627.92,467.32 629.58,468.23 631.25,468.65C632.92,469.07 634.38,469.36 636.25,469.40C638.12,469.44 640.42,468.90 642.50,468.90C644.58,468.90 646.67,469.23 648.75,469.40C650.83,469.57 653.12,469.69 655.00,469.90C656.88,470.11 658.33,470.86 660.00,470.65C661.67,470.44 663.54,469.07 665.00,468.65C666.46,468.23 667.50,467.48 668.75,468.15C670.00,468.82 671.12,471.40 672.50,472.65C673.88,473.90 675.54,475.57 677.00,475.65C678.46,475.73 679.92,474.82 681.25,473.15C682.58,471.48 683.54,467.94 685.00,465.65C686.46,463.36 688.33,460.73 690.00,459.40C691.67,458.07 693.33,457.77 695.00,457.65C696.67,457.52 698.33,457.94 700.00,458.65C701.67,459.36 703.50,460.71 705.00,461.90C706.50,463.09 707.67,464.28 708.97,465.78C710.28,467.28 711.54,469.41 712.82,470.91C714.10,472.40 715.38,474.03 716.67,474.75C717.95,475.48 719.02,474.97 720.51,475.27C722.01,475.56 723.93,476.21 725.64,476.55C727.35,476.89 729.06,476.97 730.77,477.32C732.48,477.66 734.19,478.17 735.90,478.60C737.61,479.03 739.32,480.09 741.03,479.88C742.74,479.67 744.44,478.26 746.15,477.32C747.86,476.38 749.57,474.97 751.28,474.24C752.99,473.51 754.70,473.64 756.41,472.96C758.12,472.27 759.83,471.03 761.54,470.14C763.25,469.24 764.96,468.30 766.67,467.57C768.38,466.85 770.30,466.50 771.79,465.78C773.29,465.05 774.36,463.86 775.64,463.21C776.92,462.57 778.33,461.93 779.49,461.93C780.64,461.93 781.50,461.93 782.56,463.21C783.63,464.50 784.79,467.79 785.90,469.62C787.01,471.46 788.08,473.30 789.23,474.24C790.38,475.18 791.45,475.39 792.82,475.27C794.19,475.14 795.81,474.20 797.44,473.47C799.06,472.74 800.85,471.46 802.56,470.91C804.27,470.35 806.32,470.14 807.69,470.14C809.06,470.14 809.70,471.21 810.77,470.91C811.84,470.61 812.91,469.62 814.10,468.34C815.30,467.06 816.67,464.92 817.95,463.21C819.23,461.50 820.51,459.80 821.79,458.09C823.08,456.38 824.36,455.31 825.64,452.96C826.92,450.61 828.21,447.40 829.49,443.98C830.77,440.56 832.05,435.86 833.33,432.44C834.62,429.03 835.90,426.03 837.18,423.47C838.46,420.91 839.74,419.20 841.03,417.06C842.31,414.92 843.68,412.36 844.87,410.65C846.07,408.94 847.14,407.02 848.21,406.80C849.27,406.59 850.13,407.87 851.28,409.37C852.44,410.86 853.85,413.77 855.13,415.78C856.41,417.79 857.48,420.14 858.97,421.42C860.47,422.70 862.39,422.62 864.10,423.47C865.81,424.33 867.74,425.27 869.23,426.55C870.73,427.83 871.79,429.11 873.08,431.16C874.36,433.21 875.64,437.15 876.92,438.86C878.21,440.56 879.49,440.91 880.77,441.42C882.05,441.93 883.12,441.42 884.62,441.93C886.11,442.44 888.03,443.51 889.74,444.50C891.45,445.48 893.16,446.85 894.87,447.83C896.58,448.81 898.50,450.18 900.00,450.39C901.50,450.61 902.46,449.75 903.85,449.11C905.24,448.47 907.59,446.97 908.34,446.55" fill="none" stroke="#5f5f5f" stroke-width="5.00" stroke-linejoin="round"/>
<line x1="195.00" y1="310.65" x2="195.00" y2="537.25" stroke="#2a3b4f" stroke-width="2.8" stroke-dasharray="17.9 7.88"/>
<line x1="409.10" y1="310.65" x2="409.10" y2="537.25" stroke="#2a3b4f" stroke-width="2.8" stroke-dasharray="17.9 7.88"/>
<line x1="761.60" y1="314.50" x2="761.60" y2="537.25" stroke="#2a3b4f" stroke-width="3.9" stroke-dasharray="3.9 11.575"/>
<line x1="908.30" y1="314.50" x2="908.30" y2="537.25" stroke="#2a3b4f" stroke-width="3.9" stroke-dasharray="3.9 11.575"/>
<rect x="251.75" y="304.10" width="14.50" height="231.15" fill="#c93c3d" fill-opacity="0.2"/>
</g>
<rect x="88.08" y="272.12" width="858.97" height="31.98" fill="#fff" stroke="#000" stroke-width="1.6"/>
<text transform="translate(517.6,296.75) scale(1,1.04)" font-size="24" font-weight="bold" fill="#1a1a1a" stroke="#1a1a1a" stroke-width="0.2" text-anchor="middle">Semantic</text>
<line x1="87.70" y1="304.10" x2="87.70" y2="535.25" stroke="#000" stroke-width="1.55"/>
<line x1="84.0" y1="311.58" x2="87.70" y2="311.58" stroke="#222" stroke-width="1.25"/>
<text transform="translate(81.2,319.98) scale(1,1.04)" font-size="22" fill="#000" stroke="#000" stroke-width="0.3" text-anchor="end">0.12</text>
<line x1="84.0" y1="339.84" x2="87.70" y2="339.84" stroke="#222" stroke-width="1.25"/>
<text transform="translate(81.2,348.24) scale(1,1.04)" font-size="22" fill="#000" stroke="#000" stroke-width="0.3" text-anchor="end">0.10</text>
<line x1="84.0" y1="368.11" x2="87.70" y2="368.11" stroke="#222" stroke-width="1.25"/>
<text transform="translate(81.2,376.51) scale(1,1.04)" font-size="22" fill="#000" stroke="#000" stroke-width="0.3" text-anchor="end">0.08</text>
<line x1="84.0" y1="396.37" x2="87.70" y2="396.37" stroke="#222" stroke-width="1.25"/>
<text transform="translate(81.2,404.77) scale(1,1.04)" font-size="22" fill="#000" stroke="#000" stroke-width="0.3" text-anchor="end">0.06</text>
<line x1="84.0" y1="424.63" x2="87.70" y2="424.63" stroke="#222" stroke-width="1.25"/>
<text transform="translate(81.2,433.03) scale(1,1.04)" font-size="22" fill="#000" stroke="#000" stroke-width="0.3" text-anchor="end">0.04</text>
<line x1="84.0" y1="452.90" x2="87.70" y2="452.90" stroke="#222" stroke-width="1.25"/>
<text transform="translate(81.2,461.30) scale(1,1.04)" font-size="22" fill="#000" stroke="#000" stroke-width="0.3" text-anchor="end">0.02</text>
<line x1="84.0" y1="481.16" x2="87.70" y2="481.16" stroke="#222" stroke-width="1.25"/>
<text transform="translate(81.2,489.56) scale(1,1.04)" font-size="22" fill="#000" stroke="#000" stroke-width="0.3" text-anchor="end">0.00</text>
<line x1="84.0" y1="509.42" x2="87.70" y2="509.42" stroke="#222" stroke-width="1.25"/>
<text transform="translate(81.2,517.82) scale(1,1.04)" font-size="22" fill="#000" stroke="#000" stroke-width="0.3" text-anchor="end">−0.02</text>
<clipPath id="c2"><rect x="87.70" y="574.75" width="859.30" height="231.15"/></clipPath>
<g clip-path="url(#c2)">
<path d="M126.85,710.00C127.38,711.04 128.85,714.17 130.00,716.25C131.15,718.33 132.58,719.79 133.75,722.50C134.92,725.21 135.96,729.58 137.00,732.50C138.04,735.42 138.88,739.25 140.00,740.00C141.12,740.75 142.50,738.46 143.75,737.00C145.00,735.54 146.38,733.04 147.50,731.25C148.62,729.46 149.46,728.75 150.50,726.25C151.54,723.75 152.67,719.58 153.75,716.25C154.83,712.92 155.96,708.54 157.00,706.25C158.04,703.96 159.00,701.04 160.00,702.50C161.00,703.96 162.08,710.00 163.00,715.00C163.92,720.00 164.54,727.08 165.50,732.50C166.46,737.92 167.58,743.96 168.75,747.50C169.92,751.04 171.25,754.58 172.50,753.75C173.75,752.92 175.00,746.88 176.25,742.50C177.50,738.12 178.75,733.33 180.00,727.50C181.25,721.67 182.58,714.58 183.75,707.50C184.92,700.42 185.96,690.83 187.00,685.00C188.04,679.17 188.88,675.42 190.00,672.50C191.12,669.58 192.71,670.42 193.75,667.50C194.79,664.58 195.29,659.58 196.25,655.00C197.21,650.42 198.46,644.79 199.50,640.00C200.54,635.21 201.38,630.83 202.50,626.25C203.62,621.67 205.00,616.25 206.25,612.50C207.50,608.75 208.75,604.58 210.00,603.75C211.25,602.92 212.50,606.04 213.75,607.50C215.00,608.96 216.46,609.79 217.50,612.50C218.54,615.21 219.17,618.33 220.00,623.75C220.83,629.17 221.67,638.12 222.50,645.00C223.33,651.88 224.08,658.33 225.00,665.00C225.92,671.67 226.96,681.46 228.00,685.00C229.04,688.54 230.17,686.25 231.25,686.25C232.33,686.25 233.46,682.71 234.50,685.00C235.54,687.29 236.58,694.58 237.50,700.00C238.42,705.42 239.08,712.50 240.00,717.50C240.92,722.50 241.96,729.58 243.00,730.00C244.04,730.42 245.17,724.58 246.25,720.00C247.33,715.42 248.46,707.92 249.50,702.50C250.54,697.08 251.38,692.92 252.50,687.50C253.62,682.08 255.21,676.67 256.25,670.00C257.29,663.33 257.71,651.58 258.75,647.50C259.79,643.42 261.25,646.54 262.50,645.50C263.75,644.46 265.08,643.42 266.25,641.25C267.42,639.08 268.54,636.88 269.50,632.50C270.46,628.12 271.17,621.25 272.00,615.00C272.83,608.75 273.79,599.67 274.50,595.00C275.21,590.33 275.42,587.42 276.25,587.00C277.08,586.58 278.46,589.50 279.50,592.50C280.54,595.50 281.38,601.04 282.50,605.00C283.62,608.96 285.00,612.92 286.25,616.25C287.50,619.58 288.54,622.29 290.00,625.00C291.46,627.71 293.42,631.04 295.00,632.50C296.58,633.96 297.83,633.33 299.50,633.75C301.17,634.17 303.58,633.54 305.00,635.00C306.42,636.46 307.17,639.17 308.00,642.50C308.83,645.83 309.25,650.83 310.00,655.00C310.75,659.17 311.46,663.96 312.50,667.50C313.54,671.04 315.00,673.75 316.25,676.25C317.50,678.75 318.96,681.46 320.00,682.50C321.04,683.54 321.67,683.96 322.50,682.50C323.33,681.04 324.08,677.50 325.00,673.75C325.92,670.00 326.96,663.96 328.00,660.00C329.04,656.04 330.08,653.33 331.25,650.00C332.42,646.67 333.62,642.92 335.00,640.00C336.38,637.08 338.25,632.08 339.50,632.50C340.75,632.92 341.38,639.38 342.50,642.50C343.62,645.62 345.21,648.96 346.25,651.25C347.29,653.54 347.92,653.75 348.75,656.25C349.58,658.75 350.42,663.75 351.25,666.25C352.08,668.75 352.92,671.46 353.75,671.25C354.58,671.04 355.42,668.12 356.25,665.00C357.08,661.88 357.79,657.29 358.75,652.50C359.71,647.71 360.75,640.42 362.00,636.25C363.25,632.08 364.92,628.12 366.25,627.50C367.58,626.88 368.88,630.83 370.00,632.50C371.12,634.17 372.17,635.00 373.00,637.50C373.83,640.00 374.25,644.58 375.00,647.50C375.75,650.42 376.46,653.96 377.50,655.00C378.54,656.04 380.00,655.00 381.25,653.75C382.50,652.50 383.88,649.46 385.00,647.50C386.12,645.54 386.96,642.00 388.00,642.00C389.04,642.00 390.08,645.33 391.25,647.50C392.42,649.67 393.75,652.92 395.00,655.00C396.25,657.08 397.58,658.12 398.75,660.00C399.92,661.88 400.96,665.21 402.00,666.25C403.04,667.29 404.08,664.79 405.00,666.25C405.92,667.71 406.67,672.29 407.50,675.00C408.33,677.71 408.96,680.00 410.00,682.50C411.04,685.00 412.71,687.29 413.75,690.00C414.79,692.71 415.21,696.04 416.25,698.75C417.29,701.46 418.75,704.79 420.00,706.25C421.25,707.71 422.50,706.46 423.75,707.50C425.00,708.54 426.46,710.62 427.50,712.50C428.54,714.38 429.17,716.25 430.00,718.75C430.83,721.25 431.67,725.83 432.50,727.50C433.33,729.17 434.08,728.75 435.00,728.75C435.92,728.75 436.96,726.46 438.00,727.50C439.04,728.54 440.08,732.50 441.25,735.00C442.42,737.50 443.75,739.79 445.00,742.50C446.25,745.21 447.58,750.62 448.75,751.25C449.92,751.88 450.96,747.92 452.00,746.25C453.04,744.58 453.88,742.62 455.00,741.25C456.12,739.88 457.50,738.62 458.75,738.00C460.00,737.38 461.38,736.96 462.50,737.50C463.62,738.04 464.46,741.46 465.50,741.25C466.54,741.04 467.67,739.17 468.75,736.25C469.83,733.33 470.96,727.50 472.00,723.75C473.04,720.00 474.00,716.46 475.00,713.75C476.00,711.04 476.96,708.12 478.00,707.50C479.04,706.88 480.08,710.00 481.25,710.00C482.42,710.00 483.75,708.33 485.00,707.50C486.25,706.67 487.50,706.04 488.75,705.00C490.00,703.96 491.25,702.50 492.50,701.25C493.75,700.00 495.00,698.54 496.25,697.50C497.50,696.46 498.75,696.25 500.00,695.00C501.25,693.75 502.50,690.62 503.75,690.00C505.00,689.38 506.25,691.46 507.50,691.25C508.75,691.04 510.21,687.71 511.25,688.75C512.29,689.79 512.92,693.54 513.75,697.50C514.58,701.46 515.33,707.50 516.25,712.50C517.17,717.50 518.21,722.50 519.25,727.50C520.29,732.50 521.46,739.38 522.50,742.50C523.54,745.62 524.46,744.17 525.50,746.25C526.54,748.33 527.79,752.92 528.75,755.00C529.71,757.08 530.42,760.00 531.25,758.75C532.08,757.50 532.92,753.12 533.75,747.50C534.58,741.88 535.42,731.88 536.25,725.00C537.08,718.12 537.92,711.04 538.75,706.25C539.58,701.46 540.33,698.33 541.25,696.25C542.17,694.17 543.29,693.12 544.25,693.75C545.21,694.38 546.12,697.29 547.00,700.00C547.88,702.71 548.50,706.67 549.50,710.00C550.50,713.33 551.88,716.25 553.00,720.00C554.12,723.75 555.17,727.50 556.25,732.50C557.33,737.50 558.46,744.58 559.50,750.00C560.54,755.42 561.58,761.58 562.50,765.00C563.42,768.42 564.08,770.92 565.00,770.50C565.92,770.08 566.96,765.50 568.00,762.50C569.04,759.50 570.17,755.83 571.25,752.50C572.33,749.17 573.38,745.42 574.50,742.50C575.62,739.58 576.75,737.29 578.00,735.00C579.25,732.71 580.83,730.50 582.00,728.75C583.17,727.00 584.00,725.54 585.00,724.50C586.00,723.46 586.96,723.46 588.00,722.50C589.04,721.54 590.08,718.75 591.25,718.75C592.42,718.75 593.75,720.62 595.00,722.50C596.25,724.38 597.58,727.92 598.75,730.00C599.92,732.08 600.96,732.50 602.00,735.00C603.04,737.50 604.00,742.08 605.00,745.00C606.00,747.92 606.96,752.08 608.00,752.50C609.04,752.92 610.17,751.25 611.25,747.50C612.33,743.75 613.46,734.58 614.50,730.00C615.54,725.42 616.38,722.17 617.50,720.00C618.62,717.83 620.08,717.62 621.25,717.00C622.42,716.38 623.54,717.83 624.50,716.25C625.46,714.67 626.08,710.62 627.00,707.50C627.92,704.38 628.96,699.67 630.00,697.50C631.04,695.33 632.08,695.33 633.25,694.50C634.42,693.67 635.88,693.17 637.00,692.50C638.12,691.83 638.88,690.50 640.00,690.50C641.12,690.50 642.58,689.88 643.75,692.50C644.92,695.12 645.96,701.25 647.00,706.25C648.04,711.25 649.00,717.29 650.00,722.50C651.00,727.71 652.08,734.17 653.00,737.50C653.92,740.83 654.54,742.71 655.50,742.50C656.46,742.29 657.67,738.96 658.75,736.25C659.83,733.54 660.96,729.38 662.00,726.25C663.04,723.12 664.00,718.33 665.00,717.50C666.00,716.67 666.96,720.21 668.00,721.25C669.04,722.29 670.29,724.58 671.25,723.75C672.21,722.92 672.79,719.17 673.75,716.25C674.71,713.33 675.96,709.38 677.00,706.25C678.04,703.12 679.08,699.79 680.00,697.50C680.92,695.21 681.58,692.29 682.50,692.50C683.42,692.71 684.46,698.54 685.50,698.75C686.54,698.96 687.79,695.21 688.75,693.75C689.71,692.29 690.21,689.79 691.25,690.00C692.29,690.21 693.75,693.33 695.00,695.00C696.25,696.67 697.71,697.71 698.75,700.00C699.79,702.29 700.21,706.88 701.25,708.75C702.29,710.62 703.71,710.06 705.00,711.25C706.29,712.44 707.67,715.12 708.97,715.90C710.28,716.67 711.32,715.47 712.82,715.90C714.32,716.32 716.45,719.10 717.95,718.46C719.44,717.82 720.51,714.40 721.79,712.05C723.08,709.70 724.23,706.62 725.64,704.36C727.05,702.09 728.76,699.10 730.26,698.46C731.75,697.82 733.25,699.32 734.62,700.51C735.98,701.71 737.39,703.08 738.46,705.64C739.53,708.21 740.26,712.05 741.03,715.90C741.79,719.74 742.44,724.44 743.08,728.72C743.72,732.99 744.15,737.69 744.87,741.54C745.60,745.38 746.37,749.74 747.44,751.79C748.50,753.85 750.13,753.42 751.28,753.85C752.44,754.27 753.29,753.42 754.36,754.36C755.43,755.30 756.71,758.29 757.69,759.49C758.68,760.68 759.40,761.97 760.26,761.54C761.11,761.11 761.97,759.40 762.82,756.92C763.68,754.44 764.53,750.94 765.38,746.67C766.24,742.39 766.97,735.98 767.95,731.28C768.93,726.58 770.13,721.11 771.28,718.46C772.44,715.81 773.50,715.81 774.87,715.38C776.24,714.96 778.29,717.09 779.49,715.90C780.68,714.70 781.20,712.48 782.05,708.21C782.91,703.93 783.68,697.09 784.62,690.26C785.56,683.42 786.62,672.95 787.69,667.18C788.76,661.41 789.91,656.07 791.03,655.64C792.14,655.21 793.29,661.20 794.36,664.62C795.43,668.03 796.28,674.23 797.44,676.15C798.59,678.08 800.21,676.37 801.28,676.15C802.35,675.94 802.99,674.23 803.85,674.87C804.70,675.51 805.34,677.86 806.41,680.00C807.48,682.14 809.19,685.13 810.26,687.69C811.32,690.26 811.97,691.97 812.82,695.38C813.68,698.80 814.44,704.36 815.38,708.21C816.32,712.05 817.39,715.47 818.46,718.46C819.53,721.45 820.60,724.23 821.79,726.15C822.99,728.08 824.36,729.79 825.64,730.00C826.92,730.21 828.42,728.50 829.49,727.44C830.56,726.37 831.20,726.15 832.05,723.59C832.91,721.03 833.55,716.24 834.62,712.05C835.68,707.86 837.18,700.17 838.46,698.46C839.74,696.75 841.03,700.38 842.31,701.79C843.59,703.21 845.09,707.14 846.15,706.92C847.22,706.71 847.86,703.29 848.72,700.51C849.57,697.74 850.43,692.82 851.28,690.26C852.14,687.69 852.78,685.98 853.85,685.13C854.91,684.27 856.41,684.06 857.69,685.13C858.97,686.20 860.26,689.62 861.54,691.54C862.82,693.46 864.10,695.51 865.38,696.67C866.67,697.82 867.95,697.91 869.23,698.46C870.51,699.02 871.79,700.09 873.08,700.00C874.36,699.91 875.85,697.86 876.92,697.95C877.99,698.03 878.55,699.66 879.49,700.51C880.43,701.37 881.50,702.74 882.56,703.08C883.63,703.42 884.70,703.85 885.90,702.56C887.09,701.28 888.68,697.09 889.74,695.38C890.81,693.68 891.37,692.74 892.31,692.31C893.25,691.88 894.44,693.59 895.38,692.82C896.32,692.05 896.97,690.04 897.95,687.69C898.93,685.34 900.09,680.64 901.28,678.72C902.48,676.79 903.95,676.79 905.13,676.15C906.30,675.51 907.81,675.09 908.34,674.87" fill="none" stroke="#086cd2" stroke-width="5.00" stroke-linejoin="round"/>
<path d="M126.85,706.80C127.38,706.59 128.64,705.84 130.00,705.55C131.36,705.26 133.54,705.55 135.00,705.05C136.46,704.55 137.50,703.30 138.75,702.55C140.00,701.80 141.25,700.67 142.50,700.55C143.75,700.42 145.08,700.84 146.25,701.80C147.42,702.76 148.46,704.72 149.50,706.30C150.54,707.88 151.17,710.17 152.50,711.30C153.83,712.42 155.62,712.84 157.50,713.05C159.38,713.26 162.08,712.13 163.75,712.55C165.42,712.97 166.04,714.51 167.50,715.55C168.96,716.59 170.83,717.76 172.50,718.80C174.17,719.84 175.83,721.67 177.50,721.80C179.17,721.92 180.83,720.88 182.50,719.55C184.17,718.22 186.04,716.42 187.50,713.80C188.96,711.17 190.08,707.97 191.25,703.80C192.42,699.63 193.46,694.22 194.50,688.80C195.54,683.38 196.38,676.72 197.50,671.30C198.62,665.88 200.00,661.30 201.25,656.30C202.50,651.30 203.75,645.88 205.00,641.30C206.25,636.72 207.29,632.47 208.75,628.80C210.21,625.13 212.50,620.55 213.75,619.30C215.00,618.05 215.29,619.30 216.25,621.30C217.21,623.30 218.46,627.97 219.50,631.30C220.54,634.63 221.38,637.55 222.50,641.30C223.62,645.05 225.00,650.26 226.25,653.80C227.50,657.34 228.75,660.26 230.00,662.55C231.25,664.84 232.29,665.88 233.75,667.55C235.21,669.22 237.29,671.09 238.75,672.55C240.21,674.01 241.25,674.84 242.50,676.30C243.75,677.76 245.00,679.63 246.25,681.30C247.50,682.97 248.96,685.26 250.00,686.30C251.04,687.34 251.46,687.76 252.50,687.55C253.54,687.34 254.79,686.30 256.25,685.05C257.71,683.80 259.58,682.97 261.25,680.05C262.92,677.13 264.79,671.30 266.25,667.55C267.71,663.80 268.75,660.05 270.00,657.55C271.25,655.05 272.50,654.22 273.75,652.55C275.00,650.88 276.12,649.01 277.50,647.55C278.88,646.09 280.67,643.92 282.00,643.80C283.33,643.67 284.17,644.72 285.50,646.80C286.83,648.88 288.62,653.05 290.00,656.30C291.38,659.55 292.50,663.59 293.75,666.30C295.00,669.01 296.04,670.97 297.50,672.55C298.96,674.13 300.83,675.38 302.50,675.80C304.17,676.22 306.04,675.38 307.50,675.05C308.96,674.72 310.00,673.59 311.25,673.80C312.50,674.01 313.54,675.38 315.00,676.30C316.46,677.22 318.54,679.09 320.00,679.30C321.46,679.51 322.50,679.09 323.75,677.55C325.00,676.01 326.25,671.84 327.50,670.05C328.75,668.26 330.00,666.80 331.25,666.80C332.50,666.80 333.54,668.26 335.00,670.05C336.46,671.84 338.33,674.84 340.00,677.55C341.67,680.26 343.33,684.01 345.00,686.30C346.67,688.59 348.33,690.88 350.00,691.30C351.67,691.72 353.33,690.05 355.00,688.80C356.67,687.55 358.33,685.47 360.00,683.80C361.67,682.13 363.33,680.47 365.00,678.80C366.67,677.13 368.33,675.88 370.00,673.80C371.67,671.72 373.54,668.05 375.00,666.30C376.46,664.55 377.29,663.72 378.75,663.30C380.21,662.88 382.08,663.38 383.75,663.80C385.42,664.22 387.08,664.76 388.75,665.80C390.42,666.84 392.08,668.30 393.75,670.05C395.42,671.80 397.08,674.01 398.75,676.30C400.42,678.59 402.08,681.09 403.75,683.80C405.42,686.51 407.08,689.22 408.75,692.55C410.42,695.88 412.29,700.88 413.75,703.80C415.21,706.72 416.04,708.38 417.50,710.05C418.96,711.72 420.83,712.88 422.50,713.80C424.17,714.72 426.04,715.55 427.50,715.55C428.96,715.55 430.00,714.22 431.25,713.80C432.50,713.38 433.75,712.84 435.00,713.05C436.25,713.26 437.50,714.51 438.75,715.05C440.00,715.59 441.04,715.47 442.50,716.30C443.96,717.13 445.83,718.92 447.50,720.05C449.17,721.17 450.83,722.84 452.50,723.05C454.17,723.26 455.83,721.88 457.50,721.30C459.17,720.72 460.83,719.67 462.50,719.55C464.17,719.42 465.83,719.92 467.50,720.55C469.17,721.17 471.04,722.97 472.50,723.30C473.96,723.63 475.00,723.22 476.25,722.55C477.50,721.88 478.54,720.76 480.00,719.30C481.46,717.84 483.54,714.51 485.00,713.80C486.46,713.09 487.29,714.22 488.75,715.05C490.21,715.88 492.08,717.67 493.75,718.80C495.42,719.92 497.08,721.09 498.75,721.80C500.42,722.51 502.08,723.55 503.75,723.05C505.42,722.55 506.88,719.72 508.75,718.80C510.62,717.88 512.92,717.55 515.00,717.55C517.08,717.55 519.17,718.17 521.25,718.80C523.33,719.42 525.62,720.26 527.50,721.30C529.38,722.34 530.83,723.80 532.50,725.05C534.17,726.30 535.83,728.38 537.50,728.80C539.17,729.22 540.83,728.26 542.50,727.55C544.17,726.84 546.04,724.97 547.50,724.55C548.96,724.13 549.79,724.34 551.25,725.05C552.71,725.76 554.58,727.34 556.25,728.80C557.92,730.26 559.38,732.34 561.25,733.80C563.12,735.26 565.62,737.34 567.50,737.55C569.38,737.76 570.83,736.22 572.50,735.05C574.17,733.88 576.04,731.51 577.50,730.55C578.96,729.59 580.00,729.17 581.25,729.30C582.50,729.42 583.54,730.34 585.00,731.30C586.46,732.26 588.33,734.13 590.00,735.05C591.67,735.97 593.33,736.80 595.00,736.80C596.67,736.80 598.12,735.76 600.00,735.05C601.88,734.34 604.58,732.84 606.25,732.55C607.92,732.26 608.54,732.76 610.00,733.30C611.46,733.84 613.12,735.22 615.00,735.80C616.88,736.38 619.38,736.51 621.25,736.80C623.12,737.09 624.58,737.13 626.25,737.55C627.92,737.97 629.58,738.88 631.25,739.30C632.92,739.72 634.38,740.01 636.25,740.05C638.12,740.09 640.42,739.55 642.50,739.55C644.58,739.55 646.67,739.88 648.75,740.05C650.83,740.22 653.12,740.34 655.00,740.55C656.88,740.76 658.33,741.51 660.00,741.30C661.67,741.09 663.54,739.72 665.00,739.30C666.46,738.88 667.50,738.13 668.75,738.80C670.00,739.47 671.12,742.05 672.50,743.30C673.88,744.55 675.54,746.22 677.00,746.30C678.46,746.38 679.92,745.47 681.25,743.80C682.58,742.13 683.54,738.59 685.00,736.30C686.46,734.01 688.33,731.38 690.00,730.05C691.67,728.72 693.33,728.42 695.00,728.30C696.67,728.17 698.33,728.59 700.00,729.30C701.67,730.01 703.50,731.36 705.00,732.55C706.50,733.74 707.67,734.93 708.97,736.43C710.28,737.93 711.54,740.06 712.82,741.56C714.10,743.05 715.38,744.68 716.67,745.40C717.95,746.13 719.02,745.62 720.51,745.92C722.01,746.21 723.93,746.86 725.64,747.20C727.35,747.54 729.06,747.62 730.77,747.97C732.48,748.31 734.19,748.82 735.90,749.25C737.61,749.68 739.32,750.74 741.03,750.53C742.74,750.32 744.44,748.91 746.15,747.97C747.86,747.03 749.57,745.62 751.28,744.89C752.99,744.16 754.70,744.29 756.41,743.61C758.12,742.92 759.83,741.68 761.54,740.79C763.25,739.89 764.96,738.95 766.67,738.22C768.38,737.50 770.30,737.15 771.79,736.43C773.29,735.70 774.36,734.51 775.64,733.86C776.92,733.22 778.33,732.58 779.49,732.58C780.64,732.58 781.50,732.58 782.56,733.86C783.63,735.15 784.79,738.44 785.90,740.27C787.01,742.11 788.08,743.95 789.23,744.89C790.38,745.83 791.45,746.04 792.82,745.92C794.19,745.79 795.81,744.85 797.44,744.12C799.06,743.39 800.85,742.11 802.56,741.56C804.27,741.00 806.32,740.79 807.69,740.79C809.06,740.79 809.70,741.86 810.77,741.56C811.84,741.26 812.91,740.27 814.10,738.99C815.30,737.71 816.67,735.57 817.95,733.86C819.23,732.15 820.51,730.45 821.79,728.74C823.08,727.03 824.36,725.96 825.64,723.61C826.92,721.26 828.21,718.05 829.49,714.63C830.77,711.21 832.05,706.51 833.33,703.09C834.62,699.68 835.90,696.68 837.18,694.12C838.46,691.56 839.74,689.85 841.03,687.71C842.31,685.57 843.68,683.01 844.87,681.30C846.07,679.59 847.14,677.67 848.21,677.45C849.27,677.24 850.13,678.52 851.28,680.02C852.44,681.51 853.85,684.42 855.13,686.43C856.41,688.44 857.48,690.79 858.97,692.07C860.47,693.35 862.39,693.27 864.10,694.12C865.81,694.98 867.74,695.92 869.23,697.20C870.73,698.48 871.79,699.76 873.08,701.81C874.36,703.86 875.64,707.80 876.92,709.51C878.21,711.21 879.49,711.56 880.77,712.07C882.05,712.58 883.12,712.07 884.62,712.58C886.11,713.09 888.03,714.16 889.74,715.15C891.45,716.13 893.16,717.50 894.87,718.48C896.58,719.46 898.50,720.83 900.00,721.04C901.50,721.26 902.46,720.40 903.85,719.76C905.24,719.12 907.59,717.62 908.34,717.20" fill="none" stroke="#5f5f5f" stroke-width="5.00" stroke-linejoin="round"/>
<line x1="195.00" y1="581.30" x2="195.00" y2="807.90" stroke="#2a3b4f" stroke-width="2.8" stroke-dasharray="17.9 7.88"/>
<line x1="409.10" y1="581.30" x2="409.10" y2="807.90" stroke="#2a3b4f" stroke-width="2.8" stroke-dasharray="17.9 7.88"/>
<line x1="761.60" y1="585.15" x2="761.60" y2="807.90" stroke="#2a3b4f" stroke-width="3.9" stroke-dasharray="3.9 11.575"/>
<line x1="908.30" y1="585.15" x2="908.30" y2="807.90" stroke="#2a3b4f" stroke-width="3.9" stroke-dasharray="3.9 11.575"/>
<rect x="273.25" y="574.75" width="6.00" height="231.15" fill="#086cd2" fill-opacity="0.2"/>
<rect x="789.70" y="574.75" width="18.00" height="231.15" fill="#086cd2" fill-opacity="0.2"/>
</g>
<rect x="88.08" y="542.77" width="858.97" height="31.98" fill="#fff" stroke="#000" stroke-width="1.6"/>
<text transform="translate(517.6,567.40) scale(1,1.04)" font-size="24" font-weight="bold" fill="#1a1a1a" stroke="#1a1a1a" stroke-width="0.2" text-anchor="middle">Form</text>
<line x1="87.70" y1="574.75" x2="87.70" y2="806.55" stroke="#000" stroke-width="1.55"/>
<line x1="84.0" y1="582.23" x2="87.70" y2="582.23" stroke="#222" stroke-width="1.25"/>
<text transform="translate(81.2,590.63) scale(1,1.04)" font-size="22" fill="#000" stroke="#000" stroke-width="0.3" text-anchor="end">0.12</text>
<line x1="84.0" y1="610.49" x2="87.70" y2="610.49" stroke="#222" stroke-width="1.25"/>
<text transform="translate(81.2,618.89) scale(1,1.04)" font-size="22" fill="#000" stroke="#000" stroke-width="0.3" text-anchor="end">0.10</text>
<line x1="84.0" y1="638.76" x2="87.70" y2="638.76" stroke="#222" stroke-width="1.25"/>
<text transform="translate(81.2,647.16) scale(1,1.04)" font-size="22" fill="#000" stroke="#000" stroke-width="0.3" text-anchor="end">0.08</text>
<line x1="84.0" y1="667.02" x2="87.70" y2="667.02" stroke="#222" stroke-width="1.25"/>
<text transform="translate(81.2,675.42) scale(1,1.04)" font-size="22" fill="#000" stroke="#000" stroke-width="0.3" text-anchor="end">0.06</text>
<line x1="84.0" y1="695.28" x2="87.70" y2="695.28" stroke="#222" stroke-width="1.25"/>
<text transform="translate(81.2,703.68) scale(1,1.04)" font-size="22" fill="#000" stroke="#000" stroke-width="0.3" text-anchor="end">0.04</text>
<line x1="84.0" y1="723.55" x2="87.70" y2="723.55" stroke="#222" stroke-width="1.25"/>
<text transform="translate(81.2,731.95) scale(1,1.04)" font-size="22" fill="#000" stroke="#000" stroke-width="0.3" text-anchor="end">0.02</text>
<line x1="84.0" y1="751.81" x2="87.70" y2="751.81" stroke="#222" stroke-width="1.25"/>
<text transform="translate(81.2,760.21) scale(1,1.04)" font-size="22" fill="#000" stroke="#000" stroke-width="0.3" text-anchor="end">0.00</text>
<line x1="84.0" y1="780.07" x2="87.70" y2="780.07" stroke="#222" stroke-width="1.25"/>
<text transform="translate(81.2,788.47) scale(1,1.04)" font-size="22" fill="#000" stroke="#000" stroke-width="0.3" text-anchor="end">−0.02</text>
<line x1="87.05" y1="805.90" x2="947.80" y2="805.90" stroke="#000" stroke-width="1.55"/>
<line x1="126.85" y1="805.90" x2="126.85" y2="809.40" stroke="#222" stroke-width="1.25"/>
<text transform="translate(126.85,828.2) scale(1,1.04)" font-size="22" fill="#000" stroke="#000" stroke-width="0.3" text-anchor="middle">−800</text>
<line x1="224.54" y1="805.90" x2="224.54" y2="809.40" stroke="#222" stroke-width="1.25"/>
<text transform="translate(224.54,828.2) scale(1,1.04)" font-size="22" fill="#000" stroke="#000" stroke-width="0.3" text-anchor="middle">−700</text>
<line x1="322.22" y1="805.90" x2="322.22" y2="809.40" stroke="#222" stroke-width="1.25"/>
<text transform="translate(322.22,828.2) scale(1,1.04)" font-size="22" fill="#000" stroke="#000" stroke-width="0.3" text-anchor="middle">−600</text>
<line x1="419.91" y1="805.90" x2="419.91" y2="809.40" stroke="#222" stroke-width="1.25"/>
<text transform="translate(419.91,828.2) scale(1,1.04)" font-size="22" fill="#000" stroke="#000" stroke-width="0.3" text-anchor="middle">−500</text>
<line x1="517.60" y1="805.90" x2="517.60" y2="809.40" stroke="#222" stroke-width="1.25"/>
<text transform="translate(517.60,828.2) scale(1,1.04)" font-size="22" fill="#000" stroke="#000" stroke-width="0.3" text-anchor="middle">−400</text>
<line x1="615.28" y1="805.90" x2="615.28" y2="809.40" stroke="#222" stroke-width="1.25"/>
<text transform="translate(615.28,828.2) scale(1,1.04)" font-size="22" fill="#000" stroke="#000" stroke-width="0.3" text-anchor="middle">−300</text>
<line x1="712.97" y1="805.90" x2="712.97" y2="809.40" stroke="#222" stroke-width="1.25"/>
<text transform="translate(712.97,828.2) scale(1,1.04)" font-size="22" fill="#000" stroke="#000" stroke-width="0.3" text-anchor="middle">−200</text>
<line x1="810.65" y1="805.90" x2="810.65" y2="809.40" stroke="#222" stroke-width="1.25"/>
<text transform="translate(810.65,828.2) scale(1,1.04)" font-size="22" fill="#000" stroke="#000" stroke-width="0.3" text-anchor="middle">−100</text>
<line x1="908.34" y1="805.90" x2="908.34" y2="809.40" stroke="#222" stroke-width="1.25"/>
<text transform="translate(908.34,828.2) scale(1,1.04)" font-size="22" fill="#000" stroke="#000" stroke-width="0.3" text-anchor="middle">0</text>
<text transform="translate(517.3,852.8) scale(1,1.04)" font-size="24" font-weight="bold" fill="#000" stroke="#000" stroke-width="0.2" text-anchor="middle">Time relative to expected word onset (ms)</text>
<text transform="translate(18.2,420.0) rotate(-90) scale(1,1.04)" font-size="24" font-weight="bold" fill="#000" stroke="#000" stroke-width="0.2" text-anchor="middle">Similarity (R)</text>
<text x="968.3" y="381.9" font-size="19.4" font-weight="bold" fill="#000">Condition</text>
<line x1="969.0" y1="401.00" x2="986.6" y2="401.00" stroke="#7e3294" stroke-width="5.40"/>
<text x="995.4" y="407.90" font-size="19.4" fill="#000" stroke="#000" stroke-width="0.25">Word−Specific (cat−cat)</text>
<line x1="969.0" y1="421.90" x2="986.6" y2="421.90" stroke="#c93c3d" stroke-width="5.40"/>
<text x="995.4" y="428.80" font-size="19.4" fill="#000" stroke="#000" stroke-width="0.25">Semantic (cat−horse)</text>
<line x1="969.0" y1="442.80" x2="986.6" y2="442.80" stroke="#086cd2" stroke-width="5.40"/>
<text x="995.4" y="449.70" font-size="19.4" fill="#000" stroke="#000" stroke-width="0.25">Form (cat−car)</text>
<line x1="969.0" y1="463.70" x2="986.6" y2="463.70" stroke="#5f5f5f" stroke-width="5.40"/>
<text x="995.4" y="470.60" font-size="19.4" fill="#000" stroke="#000" stroke-width="0.25">Unrelated (cat−bus)</text>
</svg></body></html>
